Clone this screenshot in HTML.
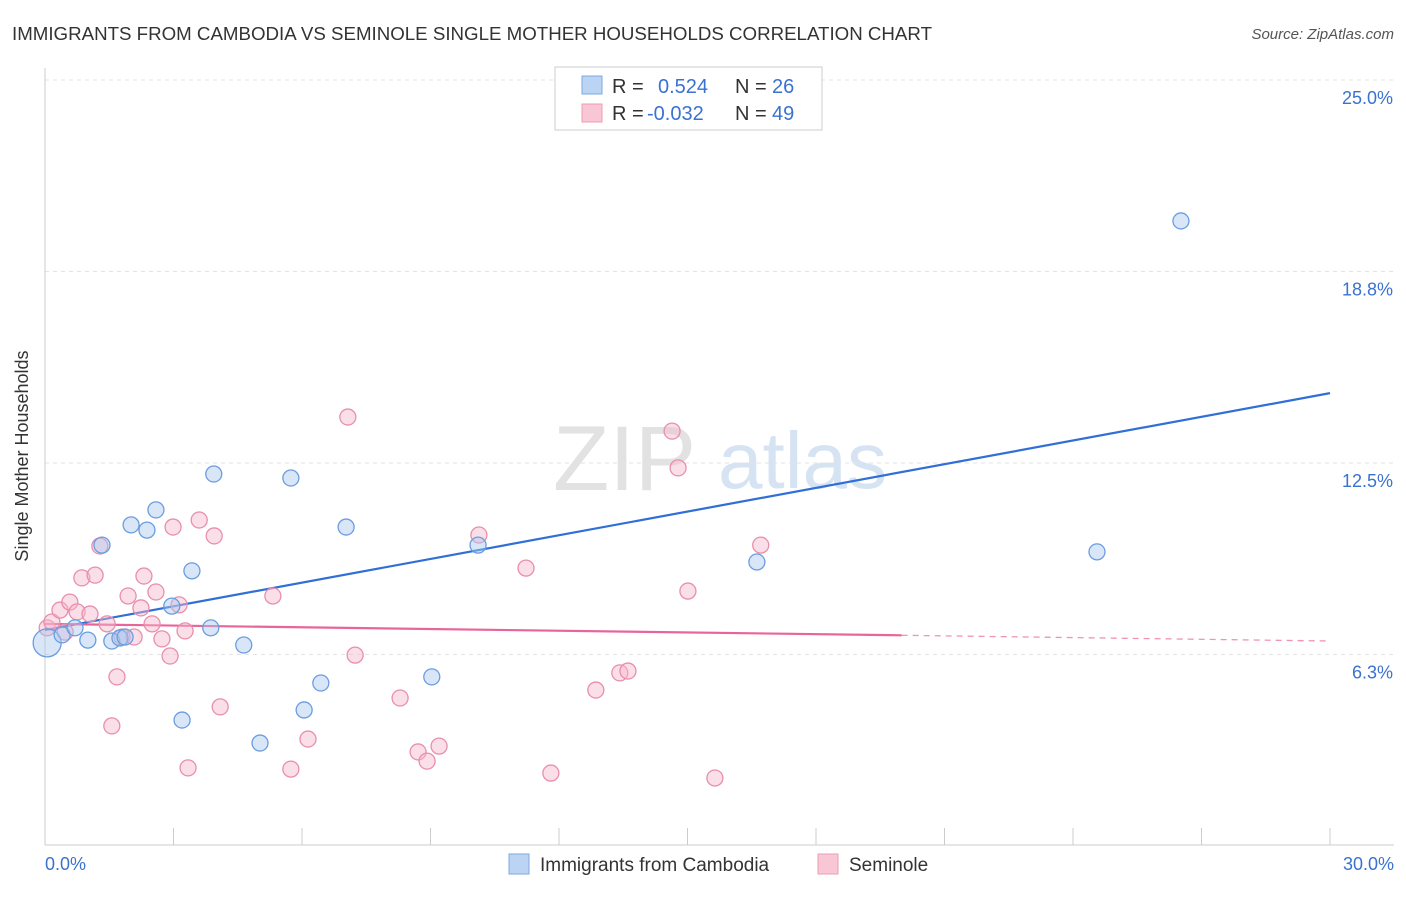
<!DOCTYPE html>
<html><head><meta charset="utf-8"><style>
body{margin:0;background:#fff;font-family:"Liberation Sans",sans-serif}
svg text{font-family:"Liberation Sans",sans-serif}
</style></head><body>
<svg id="chart" width="1406" height="892" viewBox="0 0 1406 892">
<text x="12" y="40" font-size="18" fill="#333" textLength="920" lengthAdjust="spacingAndGlyphs">IMMIGRANTS FROM CAMBODIA VS SEMINOLE SINGLE MOTHER HOUSEHOLDS CORRELATION CHART</text>
<text x="1394" y="39" font-size="15" fill="#555" font-style="italic" text-anchor="end">Source: ZipAtlas.com</text>
<g>
<text x="553" y="490" font-size="92" font-family="Liberation Serif" fill="#e2e2e2">ZIP</text>
<text x="718" y="488" font-size="80" fill="#d6e3f3">atlas</text>
</g>
<g id="grid"></g>
<g id="axes"></g>
<g id="trends"></g>
<g id="points"></g>
<text x="28" y="456" font-size="18" fill="#333" text-anchor="middle" transform="rotate(-90 28 456)">Single Mother Households</text>
<g>
<rect x="555" y="67" width="267" height="63" fill="#fff" stroke="#ccc"/>
<rect x="582" y="76" width="20" height="18" fill="#bcd4f4" stroke="#7fa9e0"/>
<rect x="582" y="104" width="20" height="18" fill="#f9c6d5" stroke="#eb9db4"/>
<text x="612" y="93" font-size="20" fill="#333">R =</text>
<text x="658" y="93" font-size="20" fill="#3a72d0">0.524</text>
<text x="735" y="93" font-size="20" fill="#333">N =</text>
<text x="772" y="93" font-size="20" fill="#3a72d0">26</text>
<text x="612" y="120" font-size="20" fill="#333">R =</text>
<text x="647" y="120" font-size="20" fill="#3a72d0">-0.032</text>
<text x="735" y="120" font-size="20" fill="#333">N =</text>
<text x="772" y="120" font-size="20" fill="#3a72d0">49</text>
</g>
<g>
<rect x="509" y="854" width="20" height="20" fill="#bcd4f4" stroke="#7fa9e0"/>
<text x="540" y="871" font-size="19" fill="#333">Immigrants from Cambodia</text>
<rect x="818" y="854" width="20" height="20" fill="#f9c6d5" stroke="#eb9db4"/>
<text x="849" y="871" font-size="19" fill="#333">Seminole</text>
</g>
</svg>
<script>
const yTicks=[6.25,12.5,18.75,25];
const yTickLabels=["6.3%","12.5%","18.8%","25.0%"];
const xTicks=[0,3,6,9,12,15,18,21,24,27,30];
const blueX=[0.05,0.40,0.70,1.00,1.33,1.56,1.75,1.87,2.01,2.38,2.59,2.96,3.20,3.43,3.87,3.94,4.64,5.02,5.74,6.05,6.44,7.03,9.03,10.11,16.62,24.56,26.52];
const blueY=[6.63,6.89,7.12,6.72,9.82,6.69,6.79,6.82,10.48,10.31,10.97,7.83,4.11,8.98,7.12,12.14,6.56,3.36,12.01,4.44,5.32,10.41,5.52,9.82,9.27,9.60,20.40];
const pinkX=[0.05,0.16,0.35,0.47,0.58,0.75,0.86,1.05,1.17,1.28,1.45,1.56,1.68,1.80,1.94,2.08,2.24,2.31,2.50,2.59,2.73,2.92,2.99,3.13,3.27,3.34,3.60,3.95,4.09,5.32,5.74,6.14,7.07,7.24,8.29,8.71,8.92,9.20,10.13,11.23,11.81,12.86,13.42,13.61,14.64,14.78,15.01,15.64,16.71];
const pinkY=[7.12,7.31,7.70,6.98,7.96,7.64,8.75,7.57,8.84,9.79,7.25,3.92,5.52,6.82,8.16,6.82,7.77,8.81,7.25,8.29,6.76,6.20,10.41,7.87,7.02,2.55,10.64,10.12,4.54,8.16,2.51,3.49,14.00,6.23,4.83,3.07,2.77,3.26,10.15,9.07,2.38,5.09,5.65,5.71,13.54,12.34,8.32,2.22,9.82];
const blueTrend=[7.05,14.78];
const pinkTrend=[7.25,6.69];
const NS="http://www.w3.org/2000/svg";
const X=v=>45+v/30*1285;
const Y=v=>80+(25-v)*30.64;
function mk(tag,attrs,parent){const e=document.createElementNS(NS,tag);for(const k in attrs)e.setAttribute(k,attrs[k]);parent.appendChild(e);return e;}
const grid=document.getElementById('grid'),axes=document.getElementById('axes'),trends=document.getElementById('trends'),pts=document.getElementById('points');
yTicks.forEach((t,i)=>{
 const l=mk('line',{x1:45,x2:1394,y1:Y(t),y2:Y(t),stroke:'#e3e3e3','stroke-dasharray':'4,4'},grid);
 
 
 const tx=mk('text',{x:1393,y:Y(t)+24,'font-size':18,fill:'#3a72d0','text-anchor':'end'},axes);
 tx.textContent=yTickLabels[i];
 
 
});
mk('line',{x1:45,x2:45,y1:68,y2:845,stroke:'#ccc'},axes);
mk('line',{x1:45,x2:1394,y1:845,y2:845,stroke:'#ccc'},axes);
xTicks.forEach(t=>{const l=mk('line',{x1:X(t),x2:X(t),y1:828,y2:845,stroke:'#ccc'},axes);
 
 });
const xl0=mk('text',{x:45,y:870,'font-size':18,fill:'#3a72d0'},axes);xl0.textContent='0.0%';


const xl1=mk('text',{x:1394,y:870,'font-size':18,fill:'#3a72d0','text-anchor':'end'},axes);xl1.textContent='30.0%';


function dot(x,y,fill,stroke,r,name){const c=mk('circle',{cx:X(x),cy:Y(y),r:r,fill:fill,'fill-opacity':0.45,stroke:stroke,'stroke-width':1.3},pts);
 
 }
pinkX.forEach((x,i)=>dot(x,pinkY[i],'#f7b8cb','#e88fab',8,'seminole-point'));
blueX.forEach((x,i)=>dot(x,blueY[i],'#a9c8f0','#6a9de0',i===0?14:8,'cambodia-point'));
const bl=mk('line',{x1:X(0),y1:Y(blueTrend[0]),x2:X(30),y2:Y(blueTrend[1]),stroke:'#2f6fd6','stroke-width':2.2},trends);


const pAt=v=>pinkTrend[0]+(pinkTrend[1]-pinkTrend[0])*v/30;
const pl=mk('line',{x1:X(0),y1:Y(pinkTrend[0]),x2:X(20),y2:Y(pAt(20)),stroke:'#e8659a','stroke-width':2.2},trends);


const pd=mk('line',{x1:X(20),y1:Y(pAt(20)),x2:X(30),y2:Y(pinkTrend[1]),stroke:'#e8659a','stroke-width':1.3,'stroke-dasharray':'6,5','stroke-opacity':0.7},trends);


</script>
</body></html>
